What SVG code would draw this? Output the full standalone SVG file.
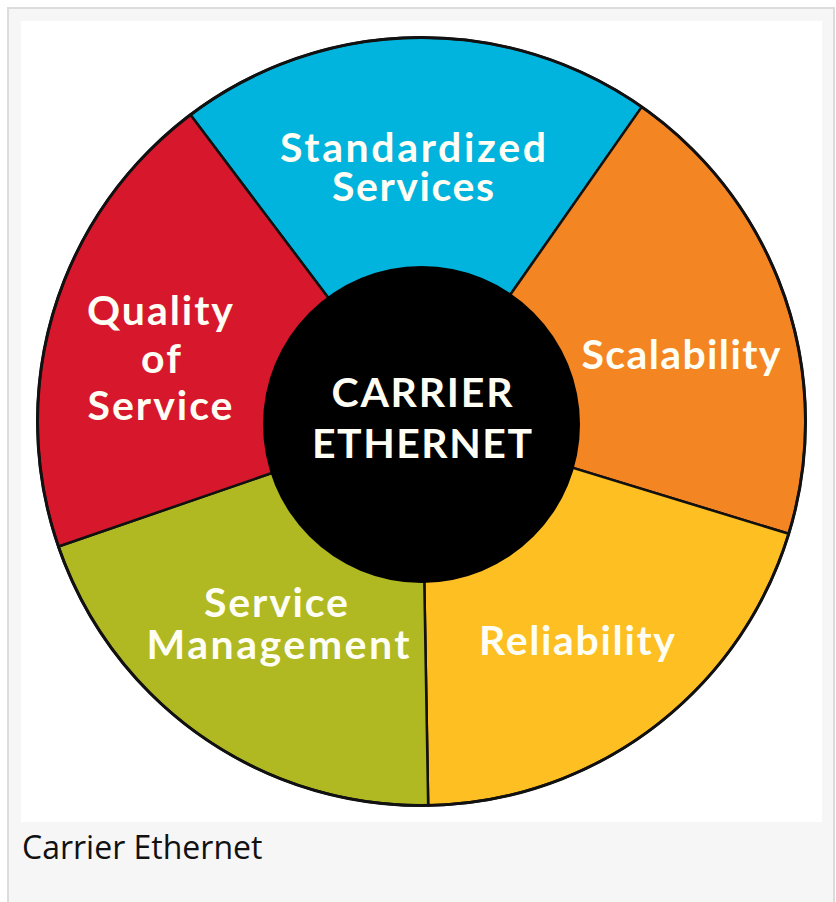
<svg xmlns="http://www.w3.org/2000/svg" width="836" height="902" viewBox="0 0 836 902">
<style>
.seg{stroke:#111;stroke-width:2.5;stroke-linejoin:round}
.lbl{font-family:Lato,"Open Sans",sans-serif;font-weight:700;fill:#fefef4;text-anchor:middle;font-size:41px}
.cap{font-family:"Open Sans","Noto Sans",sans-serif;font-size:32px;fill:#111}
</style>
<rect x="8" y="8" width="826" height="900" fill="#f6f6f6" stroke="#dcdcdc" stroke-width="2"/>
<rect x="21" y="21" width="801" height="801" fill="#ffffff"/>
<g id="standardized-services">
<path class="seg" fill="#00b4dd" d="M421.5,421.5 L190.4,114.8 A384,384 0 0 1 641.8,106.9 Z"/>
<text class="lbl" x="413" y="162" textLength="266" lengthAdjust="spacing">Standardized</text>
<text class="lbl" x="413" y="201" textLength="162" lengthAdjust="spacing">Services</text>
</g>
<g id="scalability">
<path class="seg" fill="#f48523" d="M421.5,421.5 L641.8,106.9 A384,384 0 0 1 788.7,533.8 Z"/>
<text class="lbl" x="681" y="369" textLength="199" lengthAdjust="spacing">Scalability</text>
</g>
<g id="reliability">
<path class="seg" fill="#fdbf22" d="M421.5,421.5 L788.7,533.8 A384,384 0 0 1 428.2,805.4 Z"/>
<text class="lbl" x="577" y="655" textLength="196" lengthAdjust="spacing">Reliability</text>
</g>
<g id="service-management">
<path class="seg" fill="#b0b822" d="M421.5,421.5 L428.2,805.4 A384,384 0 0 1 58.4,546.5 Z"/>
<text class="lbl" x="276" y="617" textLength="144" lengthAdjust="spacing">Service</text>
<text class="lbl" x="278" y="659" textLength="263" lengthAdjust="spacing">Management</text>
</g>
<g id="quality-of-service">
<path class="seg" fill="#d7182c" d="M421.5,421.5 L58.4,546.5 A384,384 0 0 1 190.4,114.8 Z"/>
<text class="lbl" x="160" y="325" font-size="39" textLength="146" lengthAdjust="spacing">Quality</text>
<text class="lbl" x="161" y="373" font-size="39" textLength="40" lengthAdjust="spacing">of</text>
<text class="lbl" x="160" y="420" font-size="39" textLength="145" lengthAdjust="spacing">Service</text>
</g>
<circle cx="421.5" cy="421.5" r="384" fill="none" stroke="#111" stroke-width="3"/>
<g id="carrier-ethernet">
<circle cx="421.5" cy="424.5" r="158.5" fill="#000"/>
<text class="lbl" x="422" y="407" textLength="181" lengthAdjust="spacing">CARRIER</text>
<text class="lbl" x="422" y="458" textLength="220" lengthAdjust="spacing">ETHERNET</text>
</g>
<text class="cap" x="22" y="859">Carrier Ethernet</text>
</svg>
